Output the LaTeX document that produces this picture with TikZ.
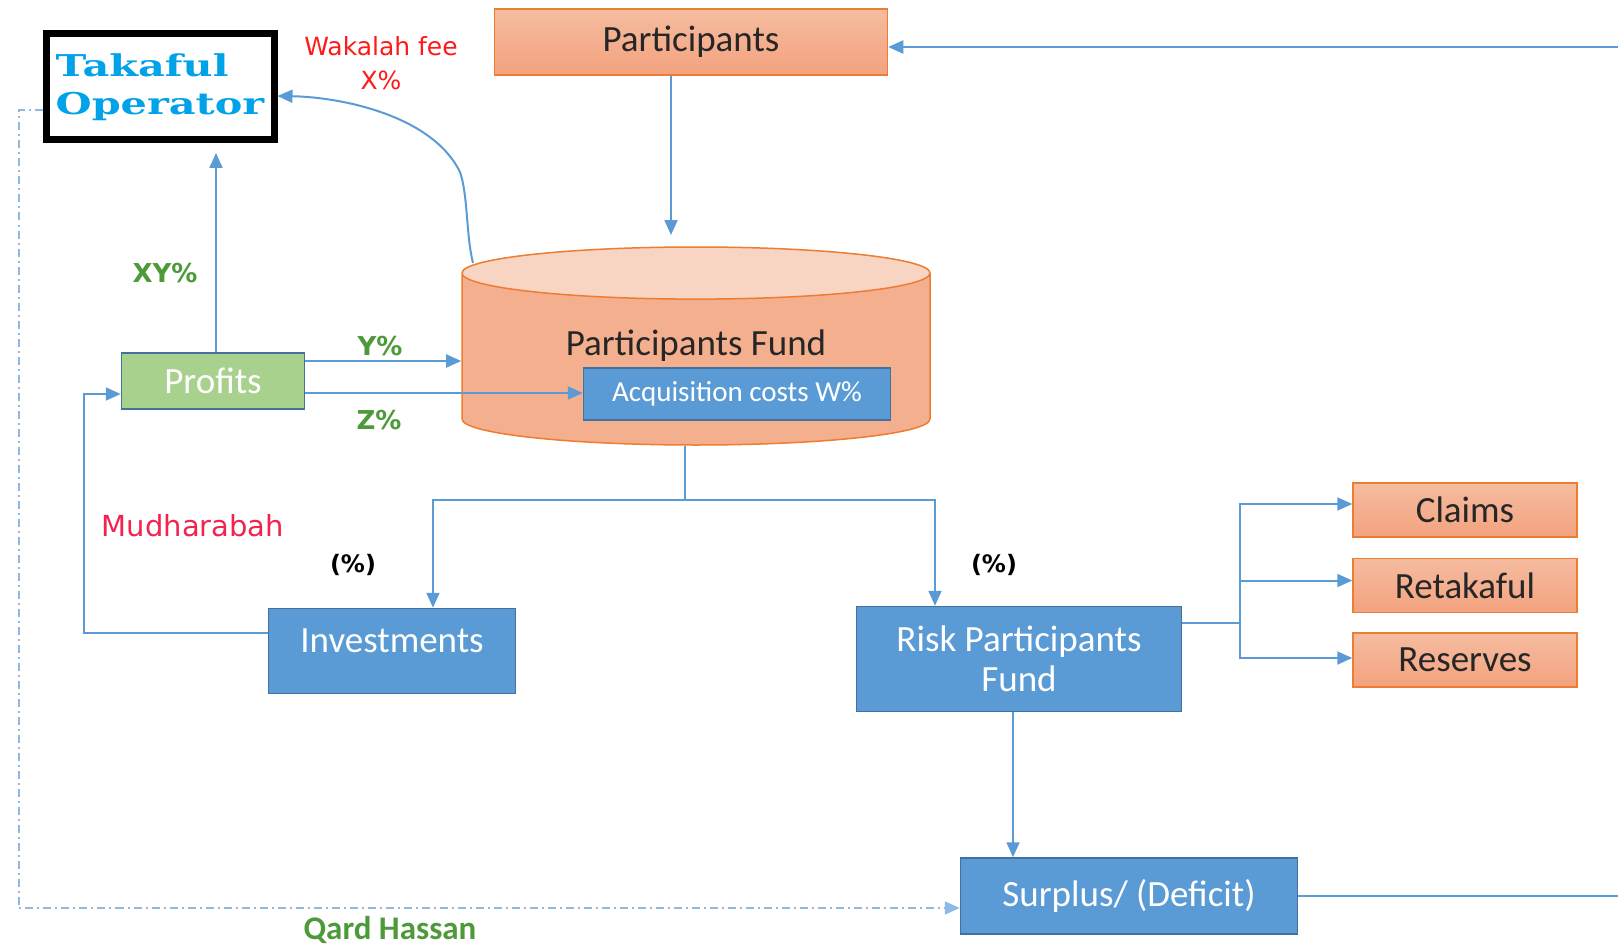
\documentclass[tikz,border=0pt]{standalone}
\usepackage{graphicx}
\usepackage{fontspec}
\setmainfont{Carlito}
\newfontfamily\dejavu{DejaVu Sans}
\newfontfamily\opfont{DejaVu Serif}
\usepackage{tikz}
\usetikzlibrary{positioning,arrows.meta,shapes.geometric,calc}

\definecolor{flowblue}{HTML}{5B9BD5}
\definecolor{boxedge}{HTML}{41719C}
\definecolor{orangeedge}{HTML}{ED7D31}
\definecolor{orangetop}{HTML}{F5BCA0}
\definecolor{orangebot}{HTML}{F3A27E}
\definecolor{orangelid}{HTML}{F8D4C3}
\definecolor{profitgreen}{HTML}{A9D18E}
\definecolor{labelgreen}{HTML}{4E9A3A}
\definecolor{feered}{HTML}{FF1A1A}
\definecolor{mudred}{HTML}{F0244F}
\definecolor{opblue}{HTML}{00A2E8}
\definecolor{qardline}{HTML}{8DB9E2}

\tikzset{
  bluebox/.style={draw=boxedge, line width=1.5pt, fill=flowblue, text=white, align=center, font=\fontsize{37}{40}\selectfont},
  orangebox/.style={draw=orangeedge, line width=1.5pt, top color=orangetop, bottom color=orangebot, text=black!85, font=\fontsize{37}{40}\selectfont},
  link/.style={draw=flowblue, line width=2pt},
  flow/.style={link, -{Triangle[length=15pt,width=13pt]}},
  pct/.style={font=\dejavu\bfseries\fontsize{26}{30}\selectfont, text=labelgreen},
}

\begin{document}
\begin{tikzpicture}[x=1pt, y=-1pt, inner sep=0pt]
\useasboundingbox (0,0) rectangle (1618,947);

% boxes
\node[draw=black, line width=7pt, fill=white, minimum width=228pt, minimum height=106pt,
      align=left, text=opblue, font=\opfont\bfseries\fontsize{30}{38}\selectfont] (operator) at (160,87)
  {\scalebox{1.38}[1]{Takaful}\\\scalebox{1.38}[1]{Operator}};
\node[orangebox, minimum width=393pt, minimum height=66pt] (participants) at (691,42) {Participants};
\node[cylinder, shape border rotate=90, aspect=0.2, draw=orangeedge, line width=1.5pt,
      cylinder uses custom fill, cylinder body fill=orangetop!50!orangebot, cylinder end fill=orangelid,
      minimum width=468pt, minimum height=198pt, anchor=shape center,
      text=black!85, font=\fontsize{37}{40}\selectfont] (fund) at (696,346) {\raisebox{34pt}{Participants Fund}};
\node[bluebox, font=\fontsize{29}{32}\selectfont, minimum width=307pt, minimum height=52pt] (acq) at (737,394) {Acquisition costs W\%};
\node[bluebox, fill=profitgreen, minimum width=183pt, minimum height=56pt] (profits) at (213,381) {Profits};
\node[bluebox, minimum width=247pt, minimum height=85pt] (invest) at (392,651) {\raisebox{20pt}{Investments}};
\node[bluebox, minimum width=325pt, minimum height=105pt] (risk) at (1019,659) {Risk Participants\\Fund};
\node[orangebox, minimum width=224pt, minimum height=54pt] (claims) at (1465,510) {Claims};
\node[orangebox, minimum width=224pt, minimum height=54pt, below=20pt of claims] (retakaful) {Retakaful};
\node[orangebox, minimum width=224pt, minimum height=54pt, below=19pt of retakaful] (reserves) {Reserves};
\node[bluebox, minimum width=337pt, minimum height=76pt] (surplus) at (1129,896) {Surplus/ (Deficit)};

% labels
\node[font=\dejavu\fontsize{25}{34}\selectfont, text=feered, align=center] (wakalah) at (381,63) {Wakalah fee\\X\%};
\node[pct] (xypct) at (165,273) {XY\%};
\node[pct] (ypct) at (380,346) {Y\%};
\node[pct] (zpct) at (379,420) {Z\%};
\node[font=\dejavu\fontsize{29}{32}\selectfont, text=mudred] (mudharabah) at (193,526) {Mudharabah};
\node[font=\dejavu\bfseries\fontsize{24}{28}\selectfont] (investpct) at (353,565) {(\%)};
\node[font=\dejavu\bfseries\fontsize{24}{28}\selectfont] (riskpct) at (994,565) {(\%)};
\node[font=\bfseries\fontsize{33}{36}\selectfont, text=labelgreen] (qard) at (390,930) {Qard Hassan};

% connectors
\coordinate (rightin) at (1618,47);
\coordinate (rightout) at (1618,896);
\coordinate (fundin) at (671,235);
\coordinate (opin) at (216,153);
\coordinate (split) at (685,500);
\coordinate (branch) at (1240,623);
\coordinate (qardcorner) at (19,908);
\coordinate (feeout) at ($(fund.shape center)+(-223,-83)$);

\draw[flow] (rightin) -- (rightin -| participants.east);
\draw[flow] (participants.south -| fundin) -- (fundin);
\draw[flow] (feeout) .. controls (466,235) and (468,195) .. (460,172) .. controls (432,115) and (340,97) .. ([yshift=-9pt]operator.east);
\draw[flow] (profits.north -| opin) -- (opin);
\draw[flow] ([yshift=20pt]profits.east) -- ([yshift=20pt]profits.east -| fund.west);
\draw[flow] ([yshift=-12pt]profits.east) -- ([yshift=-12pt]profits.east -| acq.west);
\draw[flow] ([yshift=18pt]invest.west) -- ++(-184,0) |- ([yshift=-13pt]profits.west);
\draw[link] (fund.south -| split) -- (split);
\draw[flow] (split) -| ([xshift=41pt]invest.north);
\draw[flow] (split) -| ([xshift=-84pt]risk.north);
\draw[link] ([yshift=36pt]risk.east) -- (branch);
\draw[flow] (branch) |- ([yshift=6pt]claims.west);
\draw[flow] (branch) |- ([yshift=5pt]retakaful.west);
\draw[flow] (branch) |- ([yshift=2pt]reserves.west);
\draw[flow] ([xshift=-6pt]risk.south) -- ([xshift=-6pt]risk.south |- surplus.north);
\draw[link] (surplus.east) -- (surplus.east -| rightout);
\draw[draw=qardline, line width=2pt, dash pattern=on 8pt off 4pt on 2pt off 4pt, -{Triangle[length=15pt,width=13pt]}]
  ([yshift=-23pt]operator.west) -| (qardcorner) -- ([yshift=-12pt]surplus.west);
\end{tikzpicture}
\end{document}
